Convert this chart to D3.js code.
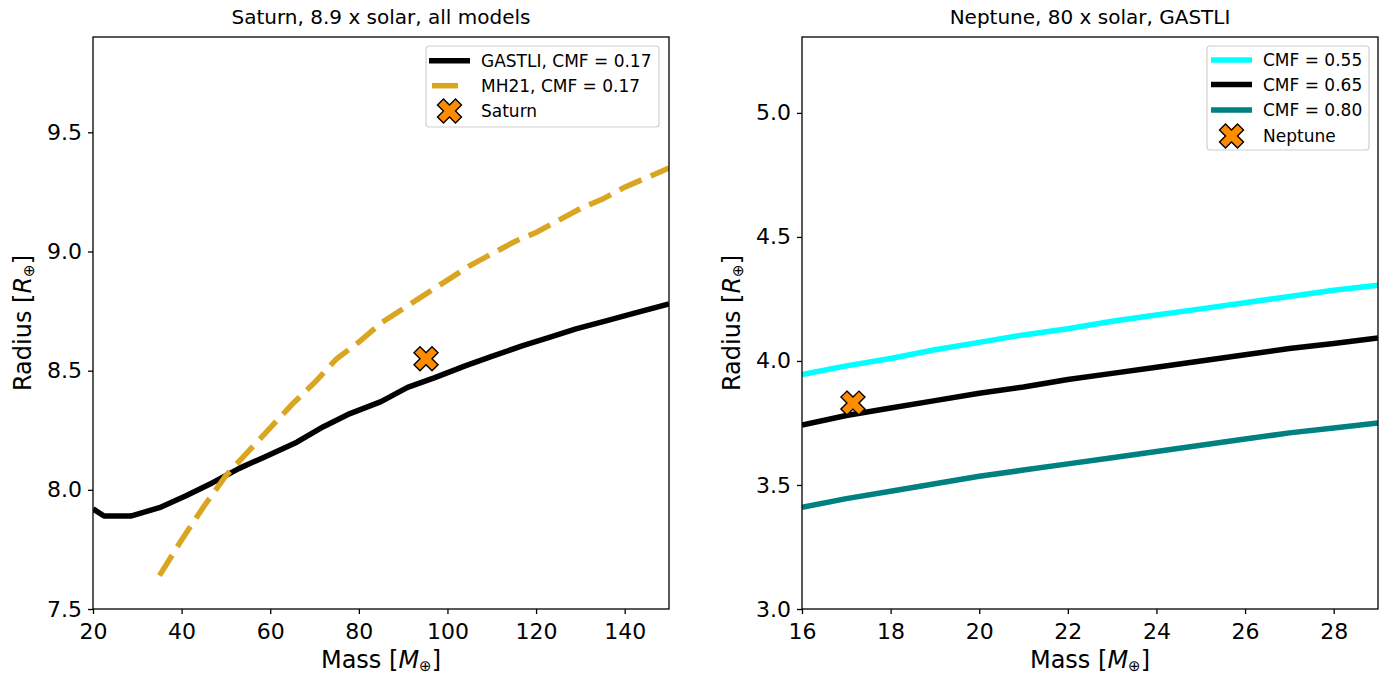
<!DOCTYPE html>
<html>
<head>
<meta charset="utf-8">
<script src="https://cdn.jsdelivr.net/npm/d3@7"></script>
<style>
  html, body { margin: 0; padding: 0; background: #fff; }
  svg { display: block; font-family: "DejaVu Sans", sans-serif; }
</style>
</head>
<body>
<svg id="fig" width="1387" height="675"></svg>
<script>
// ---- Saturn panel data (8.9 x solar) ----
const gastliSatMass   = [20, 22.5, 28.5, 35, 41, 47, 53, 59, 66, 72, 78, 85, 91, 97, 104, 110, 117, 123, 129, 136, 142, 150];
const gastliSatRadius = [7.92, 7.89, 7.89, 7.925, 7.975, 8.03, 8.09, 8.14, 8.20, 8.265, 8.32, 8.37, 8.43, 8.47, 8.52, 8.56, 8.605, 8.64, 8.675, 8.71, 8.74, 8.78];
const mh21Mass   = [35, 40, 45, 50, 55, 60, 65, 70, 75, 80, 85, 90, 95, 100, 105, 110, 115, 120, 125, 130, 135, 140, 145, 150];
const mh21Radius = [7.64, 7.79, 7.93, 8.06, 8.16, 8.26, 8.36, 8.45, 8.55, 8.62, 8.70, 8.76, 8.82, 8.88, 8.94, 8.99, 9.04, 9.08, 9.13, 9.18, 9.22, 9.27, 9.31, 9.35];
const saturnPoint = { mass: 95.16, radius: 8.55 };

// ---- Neptune panel data (80 x solar, GASTLI) ----
const nepMass   = [16, 17, 18, 19, 20, 21, 22, 23, 24, 25, 26, 27, 28, 29];
const cmf055    = [3.945, 3.98, 4.01, 4.045, 4.075, 4.105, 4.13, 4.16, 4.185, 4.21, 4.235, 4.26, 4.285, 4.305];
const cmf065    = [3.742, 3.78, 3.81, 3.84, 3.87, 3.895, 3.925, 3.95, 3.975, 4.00, 4.025, 4.05, 4.07, 4.093];
const cmf080    = [3.41, 3.445, 3.475, 3.505, 3.535, 3.56, 3.585, 3.61, 3.635, 3.66, 3.685, 3.71, 3.73, 3.75];
const neptunePoint = { mass: 17.15, radius: 3.83 };

// ---- Tick labels ----
const satXTicks = [20, 40, 60, 80, 100, 120, 140];
const satYTicks = [7.5, 8.0, 8.5, 9.0, 9.5];
const nepXTicks = [16, 18, 20, 22, 24, 26, 28];
const nepYTicks = [3.0, 3.5, 4.0, 4.5, 5.0];

const svg = d3.select("#fig");

// Filled "X" marker glyph (unit shape scaled by symbol size)
const xFilled = {
  draw(ctx, size) {
    const k = Math.sqrt(size) / 4;
    const v = [[-1,-2],[0,-1],[1,-2],[2,-1],[1,0],[2,1],[1,2],[0,1],[-1,2],[-2,1],[-1,0],[-2,-1]];
    ctx.moveTo(v[0][0]*k, v[0][1]*k);
    for (let i = 1; i < v.length; i++) ctx.lineTo(v[i][0]*k, v[i][1]*k);
    ctx.closePath();
  }
};
const markerPath = d3.symbol().type(xFilled).size(24 * 24)();

function panel(cfg) {
  const { x0, x1, y0, y1, xDomain, yDomain, xTicks, yTicks, id } = cfg;
  const x = d3.scaleLinear().domain(xDomain).range([x0, x1]);
  const y = d3.scaleLinear().domain(yDomain).range([y1, y0]);
  const g = svg.append("g");

  g.append("clipPath").attr("id", id).append("rect")
    .attr("x", x0).attr("y", y0).attr("width", x1 - x0).attr("height", y1 - y0);

  // axes
  const xa = g.append("g").attr("transform", `translate(0,${y1})`)
    .call(d3.axisBottom(x).tickValues(xTicks).tickFormat(d3.format("d")).tickSize(5).tickSizeOuter(0).tickPadding(9));
  const ya = g.append("g").attr("transform", `translate(${x0},0)`)
    .call(d3.axisLeft(y).tickValues(yTicks).tickFormat(d3.format(".1f")).tickSize(5).tickSizeOuter(0).tickPadding(6));
  [xa, ya].forEach(a => {
    a.select(".domain").remove();
    a.selectAll(".tick line").attr("stroke", "#000").attr("stroke-width", 1.3);
    a.selectAll(".tick text").attr("fill", "#000").style("font-size", "22px").style("font-family", "DejaVu Sans");
  });

  const plot = g.append("g").attr("clip-path", `url(#${id})`);

  // spines
  g.append("rect").attr("x", x0).attr("y", y0).attr("width", x1 - x0).attr("height", y1 - y0)
    .attr("fill", "none").attr("stroke", "#000").attr("stroke-width", 1.3);

  // titles and labels
  g.append("text").attr("x", (x0 + x1) / 2).attr("y", 24).attr("text-anchor", "middle")
    .style("font-size", "20px").text(cfg.title);

  const xl = g.append("text").attr("x", (x0 + x1) / 2).attr("y", 668).attr("text-anchor", "middle")
    .style("font-size", "24px");
  xl.append("tspan").text("Mass [");
  xl.append("tspan").attr("font-style", "italic").text("M");
  xl.append("tspan").attr("font-size", "15px").attr("dy", 3).text("⊕");
  xl.append("tspan").attr("dy", -3).text("]");

  const yl = g.append("text").attr("transform", `translate(${x0 - 62},${(y0 + y1) / 2}) rotate(-90)`)
    .attr("text-anchor", "middle").style("font-size", "24px");
  yl.append("tspan").text("Radius [");
  yl.append("tspan").attr("font-style", "italic").text("R");
  yl.append("tspan").attr("font-size", "15px").attr("dy", 3).text("⊕");
  yl.append("tspan").attr("dy", -3).text("]");

  return { x, y, g, plot };
}

const line = (x, y) => d3.line().x(d => x(d[0])).y(d => y(d[1]));
const zip = (a, b) => a.map((v, i) => [v, b[i]]);

// ---------- Left panel ----------
const L = panel({ id: "clipL", x0: 93, x1: 669, y0: 37, y1: 609, xDomain: [20, 150], yDomain: [7.5, 9.9],
  xTicks: satXTicks, yTicks: satYTicks, title: "Saturn, 8.9 x solar, all models" });

L.plot.append("path").attr("d", line(L.x, L.y)(zip(gastliSatMass, gastliSatRadius)))
  .attr("fill", "none").attr("stroke", "#000").attr("stroke-width", 5.5).attr("stroke-linejoin", "round");
L.plot.append("path").attr("d", line(L.x, L.y)(zip(mh21Mass, mh21Radius)))
  .attr("fill", "none").attr("stroke", "#DAA520").attr("stroke-width", 5.5)
  .attr("stroke-dasharray", "24,10");
L.plot.append("path").attr("d", markerPath)
  .attr("transform", `translate(${L.x(saturnPoint.mass)},${L.y(saturnPoint.radius)})`)
  .attr("fill", "#FF8C00").attr("stroke", "#000").attr("stroke-width", 1.4);

// ---------- Right panel ----------
const R = panel({ id: "clipR", x0: 802, x1: 1378, y0: 37, y1: 609, xDomain: [16, 29], yDomain: [3.0, 5.306],
  xTicks: nepXTicks, yTicks: nepYTicks, title: "Neptune, 80 x solar, GASTLI" });

const nepSeries = [
  { label: "CMF = 0.55", values: cmf055, color: "#00FFFF" },
  { label: "CMF = 0.65", values: cmf065, color: "#000000" },
  { label: "CMF = 0.80", values: cmf080, color: "#008080" }
];
nepSeries.forEach(s => {
  R.plot.append("path").attr("d", line(R.x, R.y)(zip(nepMass, s.values)))
    .attr("fill", "none").attr("stroke", s.color).attr("stroke-width", 5.5).attr("stroke-linejoin", "round");
});
R.plot.append("path").attr("d", markerPath)
  .attr("transform", `translate(${R.x(neptunePoint.mass)},${R.y(neptunePoint.radius)})`)
  .attr("fill", "#FF8C00").attr("stroke", "#000").attr("stroke-width", 1.4);

// ---------- Legends ----------
function legend(bx, by, bw, bh, hx0, hx1, tx, rows) {
  const g = svg.append("g");
  g.append("rect").attr("x", bx).attr("y", by).attr("width", bw).attr("height", bh).attr("rx", 3)
    .attr("fill", "#fff").attr("fill-opacity", 0.8).attr("stroke", "#d0d0d0").attr("stroke-width", 1.2);
  rows.forEach(r => {
    if (r.kind === "line") {
      g.append("line").attr("x1", r.dash ? hx0 + 3 : hx0).attr("x2", r.dash ? hx0 + 29 : hx1)
        .attr("y1", r.y).attr("y2", r.y).attr("stroke", r.color).attr("stroke-width", 5.5);
    } else {
      g.append("path").attr("d", markerPath).attr("transform", `translate(${(hx0 + hx1) / 2},${r.y})`)
        .attr("fill", "#FF8C00").attr("stroke", "#000").attr("stroke-width", 1.4);
    }
    g.append("text").attr("x", tx).attr("y", r.y).attr("dy", "0.36em").style("font-size", "17px").text(r.label);
  });
}

legend(426, 46, 233, 81, 429, 470, 481, [
  { kind: "line", color: "#000", label: "GASTLI, CMF = 0.17", y: 60.7 },
  { kind: "line", color: "#DAA520", dash: true, label: "MH21, CMF = 0.17", y: 85.7 },
  { kind: "marker", label: "Saturn", y: 111 }
]);
legend(1207, 46, 162, 104, 1211, 1252, 1263, [
  ...nepSeries.map((s, i) => ({ kind: "line", color: s.color, label: s.label, y: [60, 84.5, 110][i] })),
  { kind: "marker", label: "Neptune", y: 136 }
]);
</script>
</body>
</html>
